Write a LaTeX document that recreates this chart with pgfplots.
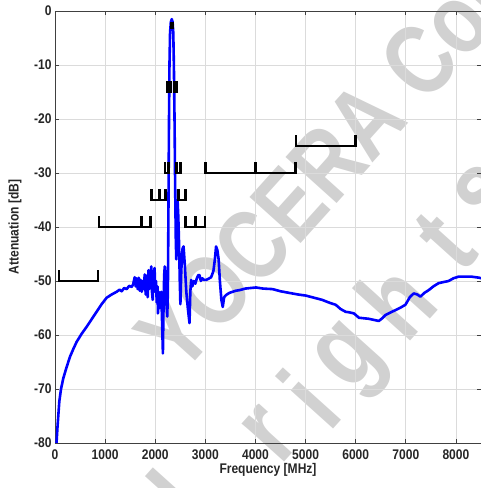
\documentclass[border=0pt]{standalone}
\usepackage{fontspec}
\setmainfont{Liberation Sans}
\newfontfamily\lblfont{Liberation Sans Bold}[FakeStretch=0.86]
\newfontfamily\wmfont{Liberation Sans Bold}[FakeStretch=0.8]
\usepackage{pgfplots}
\pgfplotsset{compat=1.18}

\pgfplotsset{
  mask/.style={black, line width=2.6pt, line join=miter},
}
\newcommand{\wm}[3]{\node[rotate=48, text=black!18, font=\wmfont\fontsize{108}{108}\selectfont] at (#1pt,#2pt) {#3};}

\begin{document}
\begin{tikzpicture}
\useasboundingbox (-55pt,-45pt) rectangle (426pt,443pt);
\clip (-55pt,-45pt) rectangle (426pt,443pt);

% watermark
\node[rotate=48, anchor=base west, text=black!18, font=\wmfont\fontsize{100}{100}\selectfont]
  at (124pt,64pt) {YOCERA Corporation};
\wm{123}{-55}{l}
\wm{215}{8}{r}
\wm{253}{45}{i}
\wm{300}{81}{g}
\wm{340}{143}{h}
\wm{390}{201}{t}
\wm{430}{248}{s}

\begin{axis}[
    scale only axis,
    width=426pt, height=432pt,
    xmin=0, xmax=8500, ymin=-80, ymax=0,
    xtick={0,1000,...,8000},
    ytick={-80,-70,...,0},
    xticklabels={0,1000,2000,3000,4000,5000,6000,7000,8000},
    yticklabels={-80,-70,-60,-50,-40,-30,-20,-10,0},
    scaled ticks=false,
    grid=major,
    grid style={black!14, line width=0.7pt},
    axis line style={black!75, line width=0.8pt},
    tick style={black!75, line width=0.8pt},
    tick align=inside,
    major tick length=4pt,
    tick label style={font=\lblfont\fontsize{14}{16}\selectfont, text=black!85},
    x tick label style={yshift=-3pt},
    xlabel={Frequency [MHz]},
    ylabel={Attenuation [dB]},
    label style={font=\lblfont\fontsize{14}{16}\selectfont, text=black!85},
    xlabel style={at={(rel axis cs:0.5,0)}, anchor=center, yshift=-27pt},
    ylabel style={at={(rel axis cs:0,0.5)}, anchor=center, yshift=40pt},
]
\addplot[blue, line width=2.6pt, line join=round] coordinates {
(30,-80) (50,-77) (86,-72.3) (120,-70) (166,-68) (230,-66) (300,-64) (370,-62.5)
(430,-61.3) (530,-59.8) (630,-58.5) (730,-57.1) (830,-55.7) (930,-54.3) (1030,-53.1)
(1130,-52.5) (1230,-52) (1290,-51.6) (1330,-51.9) (1380,-51.3) (1430,-51.5) (1480,-50.9)
(1530,-51.1) (1560,-50.6) (1590,-49.3) (1610,-51) (1630,-49.5) (1650,-51.5) (1670,-49.4)
(1690,-51.8) (1710,-49.8) (1730,-52) (1750,-50) (1770,-51.5) (1790,-48.8) (1810,-52.5)
(1830,-49) (1850,-53) (1865,-48) (1880,-51.5) (1900,-50) (1921,-47.3) (1935,-52)
(1950,-53.5) (1965,-49) (1987,-47.6) (2000,-52) (2015,-50) (2030,-54) (2045,-51)
(2054,-56) (2070,-52) (2085,-55) (2100,-53) (2120,-52) (2135,-57) (2153,-63.4)
(2165,-55) (2178,-49) (2190,-47.3) (2205,-50) (2222,-54) (2240,-56.6) (2252,-52)
(2260,-42) (2268,-30) (2275,-20) (2284,-10) (2296,-4) (2312,-2) (2330,-1.5) (2346,-2)
(2360,-4) (2372,-10) (2385,-20) (2397,-32) (2410,-42) (2420,-46) (2432,-40) (2445,-35)
(2460,-38) (2475,-43) (2490,-50) (2502,-54.3) (2520,-48) (2545,-44) (2565,-43.6)
(2590,-47) (2620,-52) (2650,-55) (2684,-57.8) (2700,-52) (2717,-49.8) (2740,-51)
(2770,-50) (2800,-50.5) (2830,-49.5) (2860,-48.9) (2883,-48.9) (2910,-50) (2940,-49.5)
(2970,-49.8) (3015,-49.8) (3060,-49.6) (3115,-49.3) (3160,-48.2) (3190,-46) (3214,-43.6)
(3240,-44.3) (3265,-46) (3290,-50) (3320,-53.5) (3347,-54.8) (3375,-53) (3413,-52.6)
(3480,-52.2) (3545,-52) (3610,-51.8) (3678,-51.7) (3800,-51.4) (3900,-51.3) (4010,-51.2)
(4150,-51.4) (4340,-51.5) (4500,-51.9) (4672,-52.2) (4850,-52.5) (5004,-52.7) (5170,-53.1)
(5334,-53.5) (5470,-54) (5600,-54.4) (5700,-55.2) (5799,-55.7) (5870,-55.8) (5964,-56)
(6064,-56.8) (6160,-56.9) (6262,-57) (6360,-57.2) (6461,-57.4) (6530,-56.9) (6594,-56.3)
(6700,-55.8) (6793,-55.4) (6900,-54.9) (6992,-54.4) (7080,-53) (7157,-52.3) (7230,-52.5)
(7290,-52.9) (7370,-52.2) (7455,-51.7) (7550,-51) (7654,-50.4) (7750,-50.2) (7853,-50)
(7950,-49.5) (8052,-49.2) (8200,-49.2) (8316,-49.2) (8469,-49.4) (8500,-49.5)
};
% spec masks
\addplot[mask] coordinates {(80,-48) (80,-50) (860,-50) (860,-48)};
\addplot[mask] coordinates {(880,-38) (880,-40) (1720,-40) (1720,-38)};
\addplot[mask] coordinates {(1720,-38) (1720,-40) (1905,-40) (1905,-38)};
\addplot[mask] coordinates {(1920,-33) (1920,-35) (2090,-35) (2090,-33)};
\addplot[mask] coordinates {(2090,-33) (2090,-35) (2205,-35) (2205,-33)};
\addplot[mask] coordinates {(2470,-33) (2470,-35) (2600,-35) (2600,-33)};
\addplot[mask] coordinates {(2600,-38) (2600,-40) (2800,-40) (2800,-38)};
\addplot[mask] coordinates {(2800,-38) (2800,-40) (2995,-40) (2995,-38)};
\addplot[mask] coordinates {(2195,-28) (2195,-30) (2265,-30) (2265,-28)};
\addplot[mask] coordinates {(2420,-28) (2420,-30) (2505,-30) (2505,-28)};
\addplot[mask] coordinates {(3000,-28) (3000,-30) (4000,-30) (4000,-28)};
\addplot[mask] coordinates {(4000,-28) (4000,-30) (4800,-30) (4800,-28)};
\addplot[mask] coordinates {(4810,-23) (4810,-25) (6000,-25) (6000,-23)};
\addplot[mask] coordinates {(2245,-13) (2245,-15) (2300,-15) (2300,-13)};
\addplot[mask] coordinates {(2375,-13) (2375,-15) (2430,-15) (2430,-13)};
\addplot[mask] coordinates {(2315,-2) (2315,-3) (2350,-3) (2350,-2)};
\end{axis}
\end{tikzpicture}
\end{document}
